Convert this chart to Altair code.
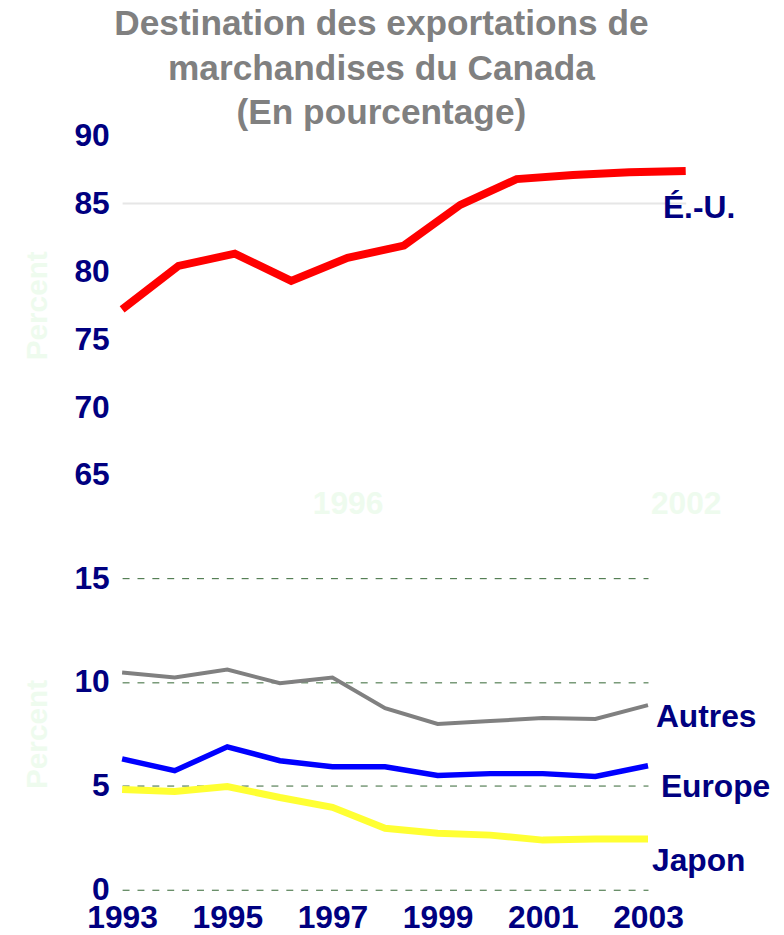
import altair as alt
import pandas as pd

# ---- data ----
years = [1993, 1994, 1995, 1996, 1997, 1998, 1999, 2000, 2001, 2002, 2003]
us = [77.2, 80.4, 81.3, 79.3, 81.0, 81.9, 84.9, 86.8, 87.1, 87.3, 87.4]
autres = [10.46, 10.22, 10.6, 9.94, 10.22, 8.74, 7.98, 8.12, 8.27, 8.22, 8.89]
europe = [6.3, 5.73, 6.88, 6.21, 5.92, 5.92, 5.5, 5.59, 5.59, 5.45, 5.97]
japon = [4.83, 4.73, 4.97, 4.44, 3.97, 2.96, 2.72, 2.63, 2.39, 2.44, 2.44]

us_name = "É.-U."
series_names = ["Autres", "Europe", "Japon"]
series_colors = ["#808080", "#0000ff", "#ffff33"]
series_widths = [4, 7, 7]

top_ticks = [65, 70, 75, 80, 85, 90]
bottom_ticks = [0, 5, 10, 15]
bottom_year_ticks = [1993, 1995, 1997, 1999, 2001, 2003]
top_hidden_ticks = [1997, 2003]  # faint labels shown as "1996", "2002"

title_lines = ["Destination des exportations de", "marchandises du Canada", "(En pourcentage)"]

# ---- styling ----
FONT = "Liberation Sans"
NAVY = "#000080"
FAINT = "#eefbee"
LBL = 32

top_df = pd.DataFrame({"serie": us_name, "annee": years, "pct": us})
bottom_df = pd.DataFrame({
    "serie": sum([[n] * len(years) for n in series_names], []),
    "annee": years * len(series_names),
    "pct": autres + europe + japon,
})

x_top = alt.X(
    "annee:Q",
    scale=alt.Scale(domain=[1993, 2003], nice=False, zero=False),
    axis=alt.Axis(values=top_hidden_ticks, labelExpr="datum.value - 1", title=None,
                  labelColor=FAINT, labelFontSize=LBL, labelFont=FONT, labelFontWeight="bold",
                  ticks=False, domain=False, grid=False, labelPadding=14, labelFlush=False),
)
y_top = alt.Y(
    "pct:Q",
    scale=alt.Scale(domain=[65, 90], nice=False, zero=False),
    axis=alt.Axis(values=top_ticks, title="Percent", titleColor=FAINT, titleFontSize=30,
                  titleFont=FONT, titleFontWeight="bold", titlePadding=22,
                  labelColor=NAVY, labelFontSize=LBL, labelFont=FONT, labelFontWeight="bold",
                  ticks=False, domain=False, labelPadding=13, labelFlush=False,
                  grid=True, gridColor="#e6e6e6", gridWidth=2,
                  gridOpacity={"condition": {"test": "datum.value == 85", "value": 1}, "value": 0}),
)

top_line = alt.Chart(top_df).mark_line(color="#ff0000", strokeWidth=8).encode(x=x_top, y=y_top)
top_label = alt.Chart(top_df).transform_filter("datum.annee == 2003").mark_text(
    align="left", baseline="alphabetic", dx=-23, dy=47, fontSize=LBL, font=FONT,
    fontWeight="bold", color=NAVY
).encode(x=x_top, y=y_top, text="serie:N")

top = alt.layer(top_line, top_label).properties(width=568, height=342)

x_bot = alt.X(
    "annee:Q",
    scale=alt.Scale(domain=[1993, 2003], nice=False, zero=False),
    axis=alt.Axis(values=bottom_year_ticks, format="d", title=None,
                  labelColor=NAVY, labelFontSize=LBL, labelFont=FONT, labelFontWeight="bold",
                  ticks=False, domain=False, grid=False, labelPadding=13, labelFlush=False),
)
y_bot = alt.Y(
    "pct:Q",
    scale=alt.Scale(domain=[0, 15], nice=False),
    axis=alt.Axis(values=bottom_ticks, title="Percent", titleColor=FAINT, titleFontSize=30,
                  titleFont=FONT, titleFontWeight="bold", titlePadding=22,
                  labelColor=NAVY, labelFontSize=LBL, labelFont=FONT, labelFontWeight="bold",
                  ticks=False, domain=False, labelPadding=13, labelFlush=False,
                  grid=True, gridColor="#336633", gridWidth=1, gridDash=[7, 8]),
)

bottom_lines = alt.Chart(bottom_df).mark_line().encode(
    x=x_bot, y=y_bot,
    color=alt.Color("serie:N", scale=alt.Scale(domain=series_names, range=series_colors), legend=None),
    strokeWidth=alt.StrokeWidth("serie:N", scale=alt.Scale(domain=series_names, range=series_widths), legend=None),
    detail="serie:N",
)

label_offsets = {"Autres": (8, 22), "Europe": (13, 32), "Japon": (4, 32)}
bottom_labels = []
for name in series_names:
    dx, dy = label_offsets[name]
    bottom_labels.append(
        alt.Chart(bottom_df).transform_filter(
            f"datum.annee == 2003 && datum.serie == '{name}'"
        ).mark_text(align="left", baseline="alphabetic", dx=dx, dy=dy, fontSize=LBL, font=FONT,
                    fontWeight="bold", color=NAVY).encode(x=x_bot, y=y_bot, text="serie:N")
    )

bottom = alt.layer(bottom_lines, *bottom_labels).properties(width=530, height=314)

chart = alt.vconcat(top, bottom, spacing=43).resolve_scale(
    x="independent", y="independent"
).properties(
    title=alt.TitleParams(text=title_lines, fontSize=35.5, fontWeight="bold", font=FONT,
                          color="#808080", lineHeight=45, anchor="middle", offset=-12, dx=-15),
    padding={"left": 14, "top": -5, "right": 5, "bottom": 0},
).configure_view(stroke=None)

chart.save("out.html", embed_options={"renderer": "svg", "actions": False})
